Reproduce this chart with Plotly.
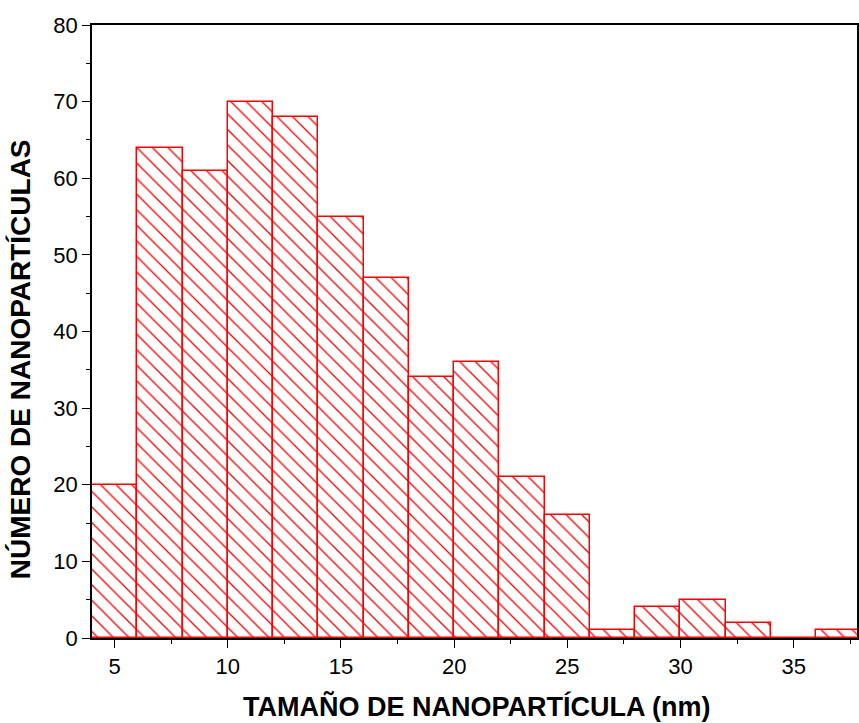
import plotly.graph_objects as go

bin_starts = [4, 6, 8, 10, 12, 14, 16, 18, 20, 22, 24, 26, 28, 30, 32, 34, 36]
counts = [20, 64, 61, 70, 68, 55, 47, 34, 36, 21, 16, 1, 4, 5, 2, 0, 1]
bin_width = 2
x_tickvals = [5, 10, 15, 20, 25, 30, 35]
y_tickvals = [0, 10, 20, 30, 40, 50, 60, 70, 80]

centers = [s + bin_width / 2 for s in bin_starts]

fig = go.Figure()
fig.add_trace(go.Bar(
    x=centers, y=counts, width=[bin_width] * len(centers),
    marker=dict(
        color="white",
        line=dict(color="#ff0000", width=1.5),
        pattern=dict(shape="\\", fgcolor="#ff0000", fgopacity=1, bgcolor="white", size=11, solidity=0.12),
    ),
    showlegend=False,
))

font = "Liberation Sans, Arial, sans-serif"
axis_common = dict(
    showgrid=False, zeroline=False, showline=True, linecolor="black", linewidth=1.5,
    ticks="outside", ticklen=8, tickwidth=1.3, tickcolor="black",
    tickfont=dict(family=font, size=22, color="black"),
)
fig.update_xaxes(range=[4, 37.8], tickvals=x_tickvals, mirror=True,
                 minor=dict(ticks="outside", ticklen=4, dtick=2.5, tick0=2.5, tickcolor="black"),
                 **axis_common)
fig.update_yaxes(range=[0, 80], tickvals=y_tickvals, mirror=True,
                 minor=dict(ticks="outside", ticklen=4, dtick=5, tick0=5, tickcolor="black"),
                 **axis_common)

fig.update_layout(
    width=859, height=723,
    margin=dict(l=92, r=0, t=25, b=85),
    plot_bgcolor="white", paper_bgcolor="white",
    bargap=0,
    annotations=[
        dict(text="<b>TAMAÑO DE NANOPARTÍCULA (nm)</b>", xref="paper", yref="paper",
             x=0.503, y=-0.111, xanchor="center", yanchor="middle", showarrow=False,
             font=dict(family=font, size=27, color="black")),
        dict(text="<b>NÚMERO DE NANOPARTÍCULAS</b>", xref="paper", yref="paper",
             x=-0.094, y=0.455, xanchor="center", yanchor="middle", showarrow=False, textangle=-90,
             font=dict(family=font, size=28, color="black")),
    ],
)

fig.write_html("out.html")
